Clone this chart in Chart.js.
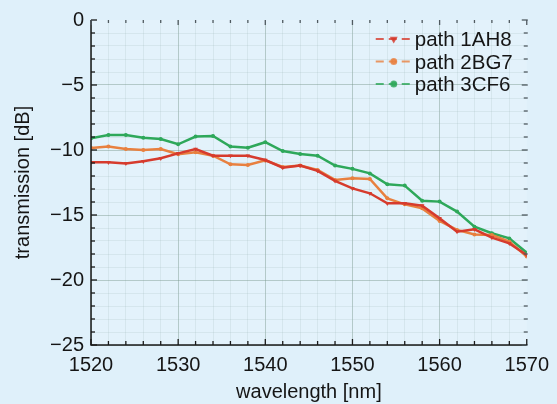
<!DOCTYPE html>
<html>
<head>
<meta charset="utf-8">
<script src="https://cdn.jsdelivr.net/npm/chart.js@4.4.1/dist/chart.umd.min.js"></script>
<style>
  html, body { margin: 0; padding: 0; background: #dff0fa; }
  #wrap { width: 557px; height: 404px; }
</style>
</head>
<body>
<div id="wrap"><canvas id="transChart" width="557" height="404"></canvas></div>
<script>
// one sample every 2 nm
const wavelength = [1520, 1522, 1524, 1526, 1528, 1530, 1532, 1534, 1536, 1538, 1540, 1542, 1544,
                    1546, 1548, 1550, 1552, 1554, 1556, 1558, 1560, 1562, 1564, 1566, 1568, 1570];

// transmission [dB] per path
const path1AH8 = [-10.95, -10.95, -11.03, -10.87, -10.64, -10.26, -9.92, -10.44, -10.44, -10.44, -10.77, -11.36, -11.2,
                  -11.6, -12.38, -12.95, -13.33, -14.1, -14.1, -14.28, -15.26, -16.28, -16.1, -16.74, -17.18, -18.08];
const path2BG7 = [-9.85, -9.74, -9.92, -10.0, -9.92, -10.33, -10.18, -10.44, -11.1, -11.15, -10.8, -11.3, -11.2,
                  -11.54, -12.3, -12.18, -12.23, -13.72, -14.18, -14.49, -15.46, -16.15, -16.5, -16.54, -17.05, -18.2];
const path3CF6 = [-9.1, -8.85, -8.85, -9.05, -9.15, -9.56, -8.97, -8.92, -9.74, -9.82, -9.4, -10.08, -10.3,
                  -10.44, -11.2, -11.45, -11.8, -12.64, -12.74, -13.9, -13.97, -14.74, -15.9, -16.4, -16.8, -17.9];

// labelled ticks
const xTicks = [1520, 1530, 1540, 1550, 1560, 1570];
const yTicks = [0, -5, -10, -15, -20, -25];

const FONT = '"Liberation Sans", Arial, Helvetica, sans-serif';
const RED = '#d63b2d';
const ORANGE = '#e8803f';
const GREEN = '#2ea85a';

function toPoints(ys) {
  return ys.map((y, i) => ({ x: wavelength[i], y: y }));
}

// fond de la zone de tracé
const plotBg = {
  id: 'plotBg',
  beforeDraw(chart) {
    const a = chart.chartArea, ctx = chart.ctx;
    ctx.save();
    ctx.fillStyle = '#e3f2fb';
    ctx.fillRect(a.left, a.top, a.right - a.left, a.bottom - a.top);
    ctx.restore();
  }
};

// axes + ticks vers l'intérieur
const frame = {
  id: 'frame',
  afterDatasetsDraw(chart) {
    const a = chart.chartArea, ctx = chart.ctx;
    const xs = chart.scales.x, ys = chart.scales.y;
    ctx.save();
    ctx.strokeStyle = '#1a1a1a';
    ctx.lineWidth = 1.5;
    ctx.beginPath();
    ctx.moveTo(a.left, a.top);
    ctx.lineTo(a.left, a.bottom);
    ctx.lineTo(a.right, a.bottom);
    ctx.stroke();

    ctx.lineWidth = 1.3;
    // gauche / droite : tous les 1 dB
    for (let v = 0; v >= -25; v--) {
      const y = ys.getPixelForValue(v);
      const len = yTicks.includes(v) ? 6 : 4;
      ctx.strokeStyle = '#1a1a1a';
      ctx.beginPath();
      ctx.moveTo(a.left, y);
      ctx.lineTo(a.left + len, y);
      ctx.stroke();
      ctx.strokeStyle = '#505a60';
      ctx.beginPath();
      ctx.moveTo(a.right - len + 1, y);
      ctx.lineTo(a.right + 1, y);
      ctx.stroke();
    }
    // bas / haut : tous les 2 nm
    for (let w = 1520; w <= 1570; w += 2) {
      const x = xs.getPixelForValue(w);
      const len = xTicks.includes(w) ? 6 : 4;
      ctx.strokeStyle = '#1a1a1a';
      ctx.beginPath();
      ctx.moveTo(x, a.bottom);
      ctx.lineTo(x, a.bottom - len);
      ctx.stroke();
      ctx.strokeStyle = '#505a60';
      ctx.beginPath();
      ctx.moveTo(x, a.top);
      ctx.lineTo(x, a.top + len - 1);
      ctx.stroke();
    }
    ctx.restore();
  }
};

// légende en haut à droite, trait pointillé + marqueur
const pathLegend = {
  id: 'pathLegend',
  afterDraw(chart) {
    const a = chart.chartArea, ctx = chart.ctx;
    const x0 = a.right - 151, x1 = a.right - 115, tx = a.right - 112;
    ctx.save();
    chart.data.datasets.forEach((ds, i) => {
      const base = a.top + 26 + i * 22.5;
      const ly = base - 7;
      ctx.strokeStyle = ds.borderColor;
      ctx.globalAlpha = 0.8;
      ctx.lineWidth = 2.2;
      ctx.setLineDash([8, 5]);
      ctx.beginPath();
      ctx.moveTo(x0, ly);
      ctx.lineTo(x1, ly);
      ctx.stroke();
      ctx.setLineDash([]);
      ctx.fillStyle = ds.borderColor;
      Chart.helpers.drawPoint(ctx, {
        pointStyle: ds.pointStyle, radius: 2.4, rotation: ds.pointRotation || 0, borderWidth: 1
      }, (x0 + x1) / 2, ly);
      ctx.globalAlpha = 1;
      ctx.fillStyle = '#151515';
      ctx.font = '20.5px ' + FONT;
      ctx.textBaseline = 'alphabetic';
      ctx.textAlign = 'left';
      ctx.fillText(ds.label, tx, base);
    });
    ctx.restore();
  }
};

const majorGrid = 'rgba(120, 150, 140, 0.45)';
const minorGrid = 'rgba(150, 175, 175, 0.18)';

new Chart(document.getElementById('transChart'), {
  type: 'line',
  data: {
    datasets: [
      { label: 'path 1AH8', data: toPoints(path1AH8), borderColor: RED, backgroundColor: RED,
        pointStyle: 'triangle', pointRotation: 180, pointRadius: 2.6 },
      { label: 'path 2BG7', data: toPoints(path2BG7), borderColor: ORANGE, backgroundColor: ORANGE,
        pointStyle: 'circle', pointRadius: 2 },
      { label: 'path 3CF6', data: toPoints(path3CF6), borderColor: GREEN, backgroundColor: GREEN,
        pointStyle: 'circle', pointRadius: 2 }
    ]
  },
  options: {
    responsive: false,
    animation: false,
    devicePixelRatio: 1,
    elements: {
      line: { borderWidth: 2.5, tension: 0 },
      point: { borderWidth: 0, hoverRadius: 3 }
    },
    layout: { padding: { left: 0, right: 26, top: 20, bottom: 0 } },
    plugins: {
      legend: { display: false },
      tooltip: { enabled: false }
    },
    scales: {
      x: {
        type: 'linear',
        min: 1520,
        max: 1570,
        afterFit(scale) { scale.height = 59; },
        afterBuildTicks(scale) {
          const t = [];
          for (let w = 1520; w <= 1570; w += 2) t.push({ value: w });
          scale.ticks = t;
        },
        border: { display: false },
        grid: {
          drawTicks: false,
          lineWidth: 1,
          color: c => (c.tick && c.tick.value === 1570) ? 'rgba(0,0,0,0)' :
                      (xTicks.includes(c.tick && c.tick.value) ? majorGrid : minorGrid)
        },
        ticks: {
          autoSkip: false,
          maxRotation: 0,
          padding: 8,
          color: '#151515',
          font: { family: FONT, size: 20 },
          callback: v => xTicks.includes(v) ? String(v) : ''
        },
        title: {
          display: true,
          text: 'wavelength [nm]',
          color: '#151515',
          font: { family: FONT, size: 20 },
          padding: { top: 0, bottom: 0 }
        }
      },
      y: {
        type: 'linear',
        min: -25,
        max: 0,
        afterFit(scale) { scale.width = 91; },
        afterBuildTicks(scale) {
          const t = [];
          for (let v = -25; v <= 0; v++) t.push({ value: v });
          scale.ticks = t;
        },
        border: { display: false },
        grid: {
          drawTicks: false,
          lineWidth: 1,
          color: c => (c.tick && c.tick.value === 0) ? 'rgba(0,0,0,0)' :
                      (yTicks.includes(c.tick && c.tick.value) ? majorGrid : minorGrid)
        },
        ticks: {
          autoSkip: false,
          padding: 7,
          color: '#151515',
          font: { family: FONT, size: 20 },
          callback: v => yTicks.includes(v) ? (v < 0 ? '\u2212' + Math.abs(v) : String(v)) : ''
        },
        title: {
          display: true,
          text: 'transmission [dB]',
          color: '#151515',
          font: { family: FONT, size: 20 },
          padding: { top: 11, bottom: 0 }
        }
      }
    }
  },
  plugins: [plotBg, frame, pathLegend]
});
</script>
</body>
</html>
